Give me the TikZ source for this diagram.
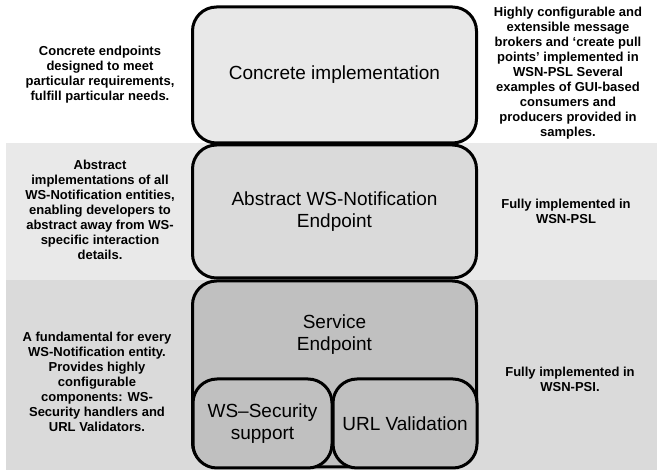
\documentclass[tikz,border=0pt]{standalone}
\usepackage{fontspec}
\setmainfont{Liberation Sans}
\usetikzlibrary{positioning}

\definecolor{bandlight}{RGB}{233,233,233}
\definecolor{banddark}{RGB}{218,218,218}
\definecolor{boxlight}{RGB}{232,232,232}
\definecolor{boxmid}{RGB}{218,218,218}
\definecolor{boxdark}{RGB}{192,192,192}

\begin{document}
\begin{tikzpicture}[
        x=1pt, y=-1pt,
        layer/.style={rectangle, draw=black, line width=3pt, rounded corners=24pt, align=center, inner sep=0pt, font=\fontsize{19}{22}\selectfont},
        note/.style={align=center, font=\fontsize{13}{15}\selectfont\bfseries}
    ]
        % background bands
        \useasboundingbox (0,0) rectangle (657,470);
        \fill[white] (0,0) rectangle (657,470);
        \fill[bandlight] (6,143) rectangle (657,280);
        \fill[banddark] (6,280) rectangle (657,470);

        % layers
        \node[layer, fill=boxlight, minimum width=284pt, minimum height=136pt] (concrete) at (334.5,75) {Concrete implementation};
        \node[layer, fill=boxmid, minimum width=284pt, minimum height=133pt] (abstract) at (334.5,211.5) {Abstract WS-Notification\\Endpoint};
        \node[layer, fill=boxdark, minimum width=284pt, minimum height=186pt] (service) at (334.5,374) {};
        \node[font=\fontsize{19}{22}\selectfont, align=center] (servicetext) at (334.5,335) {Service\\Endpoint};
        \node[layer, fill=boxdark, minimum width=139pt, minimum height=89pt] (wssec) at (262.5,423.5) {WS--Security\\support};
        \node[layer, fill=boxdark, minimum width=144pt, minimum height=89pt] (urlval) at (405,423.5) {URL Validation};

        % left notes
        \node[note] (concretenote) at (100,75) {Concrete endpoints\\designed to meet\\particular requirements,\\fulfill particular needs.};
        \node[note] (abstractnote) at (100,210) {Abstract\\implementations of all\\WS-Notification entities,\\enabling developers to\\abstract away from WS-\\specific interaction\\details.};
        \node[note] (servicenote) at (97,382) {A fundamental for every\\WS-Notification entity.\\Provides highly\\configurable\\components: WS-\\Security handlers and\\URL Validators.};

        % right notes
        \node[note] (concreteimpl) at (568,73) {Highly configurable and\\extensible message\\brokers and `create pull\\points' implemented in\\WSN-PSL Several\\examples of GUI-based\\consumers and\\producers provided in\\samples.};
        \node[note] (abstractimpl) at (566,211) {Fully implemented in\\WSN-PSL};
        \node[note] (serviceimpl) at (570,379) {Fully implemented in\\WSN-PSI.};
    \end{tikzpicture}
\end{document}
